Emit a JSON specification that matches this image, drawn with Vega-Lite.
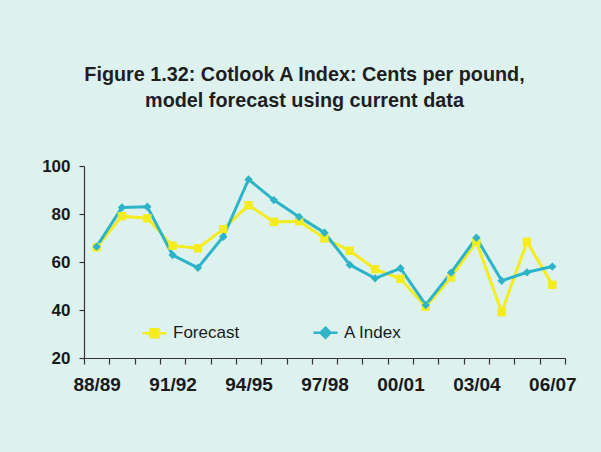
{
  "$schema": "https://vega.github.io/schema/vega-lite/v6.json",
  "width": 481,
  "height": 192,
  "autosize": {"type": "none"},
  "padding": {"left": 84, "top": 166, "right": 36, "bottom": 94},
  "background": "#ddf2ef",
  "config": {
    "view": {"stroke": null},
    "font": "Liberation Sans",
    "axis": {"labelFont": "Liberation Sans", "labelColor": "#1a1a1a", "domainColor": "#333333", "tickColor": "#333333", "domainWidth": 1.2, "tickWidth": 1.2}
  },
  "title": {
    "text": ["Figure 1.32: Cotlook A Index: Cents per pound,", "model forecast using current data"],
    "fontSize": 19.8,
    "fontWeight": "bold",
    "font": "Liberation Sans",
    "color": "#1e1e1e",
    "anchor": "middle",
    "dx": -20,
    "offset": 46,
    "lineHeight": 26
  },
  "data": {
    "values": [
      {"season": "88/89", "series": "Forecast", "value": 66.1},
      {"season": "89/90", "series": "Forecast", "value": 79.1},
      {"season": "90/91", "series": "Forecast", "value": 78.2},
      {"season": "91/92", "series": "Forecast", "value": 66.8},
      {"season": "92/93", "series": "Forecast", "value": 65.7},
      {"season": "93/94", "series": "Forecast", "value": 73.7},
      {"season": "94/95", "series": "Forecast", "value": 83.7},
      {"season": "95/96", "series": "Forecast", "value": 76.7},
      {"season": "96/97", "series": "Forecast", "value": 77.0},
      {"season": "97/98", "series": "Forecast", "value": 69.9},
      {"season": "98/99", "series": "Forecast", "value": 64.7},
      {"season": "99/00", "series": "Forecast", "value": 57.0},
      {"season": "00/01", "series": "Forecast", "value": 53.0},
      {"season": "01/02", "series": "Forecast", "value": 41.4},
      {"season": "02/03", "series": "Forecast", "value": 53.6},
      {"season": "03/04", "series": "Forecast", "value": 68.4},
      {"season": "04/05", "series": "Forecast", "value": 39.1},
      {"season": "05/06", "series": "Forecast", "value": 68.4},
      {"season": "06/07", "series": "Forecast", "value": 50.5},
      {"season": "88/89", "series": "A Index", "value": 66.4},
      {"season": "89/90", "series": "A Index", "value": 82.7},
      {"season": "90/91", "series": "A Index", "value": 83.0},
      {"season": "91/92", "series": "A Index", "value": 62.9},
      {"season": "92/93", "series": "A Index", "value": 57.6},
      {"season": "93/94", "series": "A Index", "value": 70.5},
      {"season": "94/95", "series": "A Index", "value": 94.4},
      {"season": "95/96", "series": "A Index", "value": 85.8},
      {"season": "96/97", "series": "A Index", "value": 78.8},
      {"season": "97/98", "series": "A Index", "value": 72.2},
      {"season": "98/99", "series": "A Index", "value": 58.8},
      {"season": "99/00", "series": "A Index", "value": 53.2},
      {"season": "00/01", "series": "A Index", "value": 57.4},
      {"season": "01/02", "series": "A Index", "value": 42.1},
      {"season": "02/03", "series": "A Index", "value": 55.6},
      {"season": "03/04", "series": "A Index", "value": 70.1},
      {"season": "04/05", "series": "A Index", "value": 52.2},
      {"season": "05/06", "series": "A Index", "value": 55.7},
      {"season": "06/07", "series": "A Index", "value": 58.1}
    ]
  },
  "encoding": {
    "x": {
      "field": "season",
      "type": "ordinal",
      "sort": null,
      "bandPosition": 0.5,
      "scale": {"type": "band", "paddingInner": 0, "paddingOuter": 0},
      "axis": {
        "title": null,
        "labelAngle": 0,
        "labelFontSize": 19,
        "labelFontWeight": "bold",
        "labelPadding": 11,
        "tickSize": 6,
        "tickBand": "extent",
        "labelOverlap": false,
        "labelExpr": "indexof(['88/89','91/92','94/95','97/98','00/01','03/04','06/07'], datum.value) >= 0 ? datum.label : ''"
      }
    },
    "y": {
      "field": "value",
      "type": "quantitative",
      "scale": {"domain": [20, 100], "nice": false, "zero": false},
      "axis": {
        "title": null,
        "values": [20, 40, 60, 80, 100],
        "grid": false,
        "labelFontSize": 17,
        "labelFontWeight": "bold",
        "labelPadding": 9,
        "tickSize": 5
      }
    },
    "color": {
      "field": "series",
      "type": "nominal",
      "sort": ["Forecast", "A Index"],
      "scale": {"domain": ["Forecast", "A Index"], "range": ["#f4ec1c", "#2db4c7"]},
      "legend": {
        "title": null,
        "orient": "none",
        "direction": "horizontal",
        "legendX": 57,
        "legendY": 153,
        "labelFontSize": 17,
        "labelFont": "Liberation Sans",
        "labelColor": "#1a1a1a",
        "labelOffset": 5,
        "columnPadding": 68,
        "symbolSize": 576,
        "symbolStrokeWidth": 2.5,
        "symbolType": "M-1,0H1M-0.33,-0.33H0.33V0.33H-0.33Z",
        "encode": {
          "symbols": {
            "update": {
              "shape": {"signal": "datum.value === 'Forecast' ? 'M-1,0H1M-0.33,-0.33H0.33V0.33H-0.33Z' : 'M-1,0H1M0,-0.42L0.42,0L0,0.42L-0.42,0Z'"},
              "fill": {"scale": "color", "field": "value"},
              "stroke": {"scale": "color", "field": "value"},
              "opacity": {"value": 1}
            }
          }
        }
      }
    }
  },
  "layer": [
    {
      "mark": {"type": "line", "strokeWidth": 3}
    },
    {
      "transform": [{"filter": "datum.series === 'Forecast'"}],
      "mark": {"type": "point", "filled": true, "opacity": 1, "shape": "square", "size": 70}
    },
    {
      "transform": [{"filter": "datum.series === 'A Index'"}],
      "mark": {"type": "point", "filled": true, "opacity": 1, "shape": "diamond", "size": 70}
    }
  ]
}
